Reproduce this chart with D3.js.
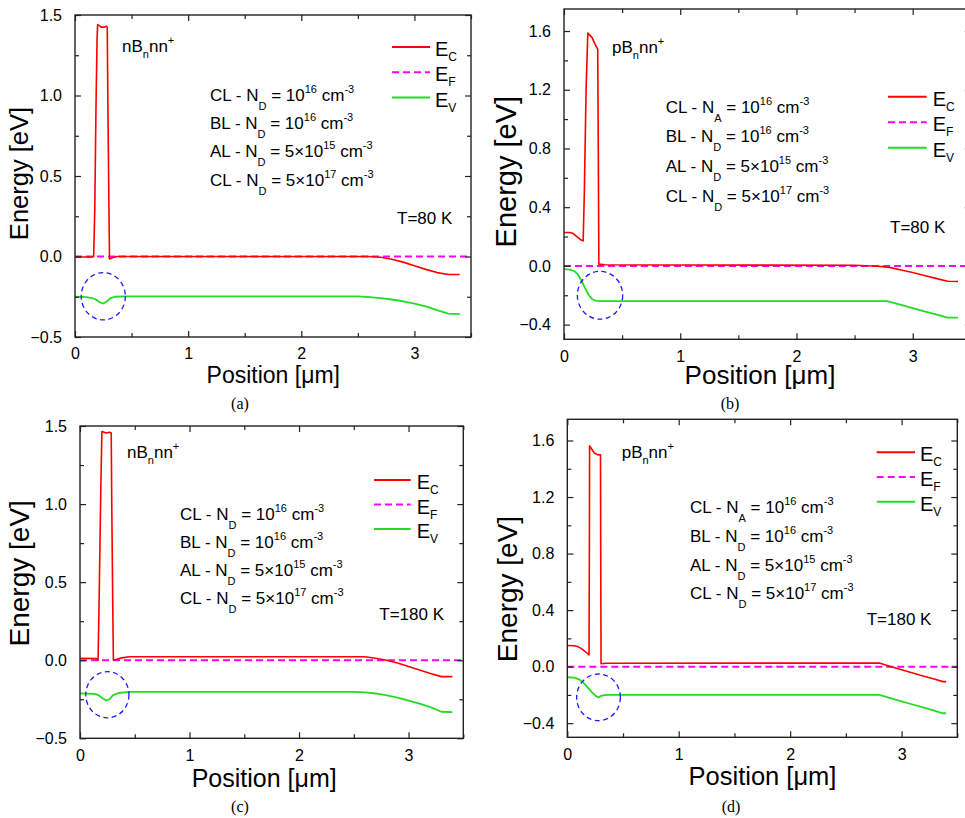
<!DOCTYPE html>
<html>
<head>
<meta charset="utf-8">
<script src="https://cdn.jsdelivr.net/npm/d3@7"></script>
<style>
  body { margin: 0; background: #fff; }
  svg text { font-family: "Liberation Sans", Arial, sans-serif; fill: #000; white-space: pre; }
  svg text.caption { font-family: "Liberation Serif", "Times New Roman", serif; }
</style>
</head>
<body>
<svg id="fig" width="965" height="818"></svg>
<script>
"use strict";

// ---- axis ticks ----
const positionTicks = [0, 1, 2, 3];
const positionMinor = [0.5, 1.5, 2.5, 3.5];
const energyTicksN = [-0.5, 0, 0.5, 1.0, 1.5];
const energyMinorN = [-0.25, 0.25, 0.75, 1.25];
const energyTicksP = [-0.4, 0, 0.4, 0.8, 1.2, 1.6];
const energyMinorP = [-0.2, 0.2, 0.6, 1.0, 1.4];

// ---- band edges: [position (um), energy (eV)] ----
// (a) nBnn+, 80 K
const ecA = [[0,-0.003],[0.15,-0.003],[0.165,0.0],[0.175,0.3],[0.185,0.9],[0.195,1.35],[0.2,1.44],
  [0.215,1.435],[0.23,1.425],[0.26,1.425],[0.275,1.43],[0.285,1.425],[0.29,1.0],[0.3,0.3],[0.305,-0.015],
  [0.33,-0.008],[0.37,0.0],[2.6,0.0],[2.7,-0.005],[2.8,-0.017],[2.9,-0.035],[3.0,-0.058],[3.1,-0.08],
  [3.2,-0.1],[3.3,-0.112],[3.4,-0.112]];
const evA = [[0,-0.25],[0.1,-0.252],[0.15,-0.258],[0.19,-0.27],[0.22,-0.285],[0.25,-0.292],[0.28,-0.28],
  [0.31,-0.26],[0.35,-0.25],[0.45,-0.248],[2.5,-0.248],[2.6,-0.252],[2.7,-0.258],[2.8,-0.267],[2.9,-0.278],
  [3.0,-0.292],[3.1,-0.31],[3.2,-0.333],[3.3,-0.355],[3.4,-0.358]];
// (b) pBnn+, 80 K
const ecB = [[0,0.228],[0.05,0.228],[0.08,0.22],[0.11,0.2],[0.14,0.18],[0.165,0.17],[0.175,0.5],[0.19,1.2],
  [0.205,1.586],[0.24,1.557],[0.28,1.49],[0.29,1.477],[0.295,0.8],[0.3,0.012],[0.35,0.008],[2.5,0.004],
  [2.7,-0.002],[2.8,-0.01],[2.9,-0.028],[3.0,-0.045],[3.1,-0.065],[3.2,-0.085],[3.3,-0.105],[3.39,-0.106]];
const evB = [[0,-0.022],[0.05,-0.025],[0.09,-0.035],[0.12,-0.06],[0.15,-0.1],[0.18,-0.15],[0.21,-0.195],
  [0.24,-0.225],[0.27,-0.237],[0.31,-0.24],[2.78,-0.24],[2.9,-0.265],[3.0,-0.287],[3.1,-0.31],[3.2,-0.33],
  [3.3,-0.352],[3.39,-0.353]];
// (c) nBnn+, 180 K
const ecC = [[0,0.013],[0.15,0.01],[0.165,0.0],[0.175,0.4],[0.19,1.1],[0.2,1.465],[0.22,1.46],[0.24,1.455],
  [0.27,1.46],[0.285,1.455],[0.29,1.0],[0.3,0.3],[0.305,0.0],[0.33,0.005],[0.38,0.015],[0.45,0.022],
  [2.6,0.022],[2.7,0.013],[2.8,0.0],[2.9,-0.018],[3.0,-0.04],[3.1,-0.062],[3.2,-0.085],[3.3,-0.105],[3.4,-0.105]];
const evC = [[0,-0.212],[0.12,-0.215],[0.16,-0.22],[0.2,-0.24],[0.24,-0.258],[0.27,-0.25],[0.3,-0.225],
  [0.35,-0.21],[0.45,-0.203],[2.5,-0.203],[2.6,-0.206],[2.7,-0.213],[2.8,-0.225],[2.9,-0.24],[3.0,-0.258],
  [3.1,-0.278],[3.2,-0.3],[3.3,-0.33],[3.4,-0.333]];
// (d) pBnn+, 180 K
const ecD = [[0,0.149],[0.06,0.148],[0.1,0.14],[0.14,0.12],[0.17,0.1],[0.195,0.083],[0.198,0.8],[0.2,1.562],
  [0.215,1.545],[0.23,1.525],[0.245,1.51],[0.27,1.5],[0.298,1.498],[0.3,0.8],[0.303,0.02],[0.35,0.024],
  [2.8,0.026],[2.9,0.001],[3.0,-0.022],[3.1,-0.045],[3.2,-0.068],[3.3,-0.09],[3.37,-0.106],[3.4,-0.106]];
const evD = [[0,-0.075],[0.06,-0.078],[0.1,-0.088],[0.14,-0.11],[0.18,-0.145],[0.22,-0.18],[0.26,-0.21],
  [0.28,-0.218],[0.3,-0.208],[0.33,-0.202],[0.4,-0.2],[2.8,-0.2],[2.9,-0.223],[3.0,-0.245],[3.1,-0.268],
  [3.2,-0.29],[3.3,-0.313],[3.37,-0.33],[3.4,-0.33]];
// Fermi level
const efLine = [[0,0],[3.5,0]];

// dashed circles: [x (um), y (eV), rx (um), ry (eV)]
const circleA = [0.25, -0.247, 0.195, 0.147];
const circleB = [0.31, -0.2, 0.195, 0.163];
const circleC = [0.25, -0.221, 0.197, 0.148];
const circleD = [0.28, -0.217, 0.196, 0.165];

// ---- texts ----
const panelTags = ["(a)", "(b)", "(c)", "(d)"];
const temperatures = ["T=80 K", "T=80 K", "T=180 K", "T=180 K"];
const legendNames = [["E", "C"], ["E", "F"], ["E", "V"]];
const structN = [["nB", ""], ["n", "sub"], ["nn", ""], ["+", "sup"]];
const structP = [["pB", ""], ["n", "sub"], ["nn", ""], ["+", "sup"]];
const dopingN = [
  [["CL - N", ""], ["D", "sub"], [" = 10", ""], ["16", "sup"], [" cm", ""], ["-3", "sup"]],
  [["BL - N", ""], ["D", "sub"], [" = 10", ""], ["16", "sup"], [" cm", ""], ["-3", "sup"]],
  [["AL - N", ""], ["D", "sub"], [" = 5\u00d710", ""], ["15", "sup"], [" cm", ""], ["-3", "sup"]],
  [["CL - N", ""], ["D", "sub"], [" = 5\u00d710", ""], ["17", "sup"], [" cm", ""], ["-3", "sup"]]
];
const dopingP = [
  [["CL - N", ""], ["A", "sub"], [" = 10", ""], ["16", "sup"], [" cm", ""], ["-3", "sup"]],
  dopingN[1], dopingN[2], dopingN[3]
];

// ---- layout (pixels) ----
const panels = [
  { ec: ecA, ev: evA, circle: circleA, ticks: energyTicksN, minor: energyMinorN, yDom: [-0.5, 1.5],
    left: 75, top: 15, right: 471, bottom: 337, struct: structN, doping: dopingN,
    tag: [47, 37], dop: [135, 85.5, 28.4], temp: [322, 209], leg: [317, 355, 32, 25.3, 360],
    eLab: [28, 173.5, 25.5], pLab: [273.3, 383, 23], cap: [240, 409] },
  { ec: ecB, ev: evB, circle: circleB, ticks: energyTicksP, minor: energyMinorP, yDom: [-0.5, 1.75],
    left: 564, top: 9, right: 970.8, bottom: 339.3, struct: structP, doping: dopingP,
    tag: [48, 44], dop: [101.7, 103.7, 29.7], temp: [326, 224], leg: [324, 362.7, 87.7, 25.5, 368.7],
    eLab: [515.7, 171.7, 29], pLab: [760, 384, 26], cap: [730, 409] },
  { ec: ecC, ev: evC, circle: circleC, ticks: energyTicksN, minor: energyMinorN, yDom: [-0.5, 1.5],
    left: 80, top: 426, right: 463.3, bottom: 738.3, struct: structN, doping: dopingN,
    tag: [47, 32], dop: [100, 94, 28.1], temp: [299.3, 194], leg: [294, 330.7, 54, 24.5, 336.7],
    eLab: [29, 573.3, 28], pLab: [264.2, 786.7, 25], cap: [240, 812] },
  { ec: ecD, ev: evD, circle: circleD, ticks: energyTicksP, minor: energyMinorP, yDom: [-0.5, 1.75],
    left: 567.3, top: 419.3, right: 957.3, bottom: 737.3, struct: structP, doping: dopingP,
    tag: [54.4, 39], dop: [122.7, 94, 28.7], temp: [299.4, 205.7], leg: [309.4, 347.7, 33, 24.7, 352.7],
    eLab: [517.4, 589, 28], pLab: [762.5, 785, 25.5], cap: [731, 812] }
];

const svg = d3.select("#fig");

function richText(sel, x, y, parts, size, small, subDy, supDy) {
  const t = sel.append("text").attr("x", x).attr("y", y).style("font-size", size + "px");
  let shift = 0;
  parts.forEach(([s, kind]) => {
    const target = kind === "sub" ? subDy : kind === "sup" ? supDy : 0;
    t.append("tspan")
      .attr("dy", target - shift)
      .style("font-size", (kind ? small : size) + "px")
      .text(s);
    shift = target;
  });
  return t;
}

panels.forEach((p, i) => {
  const w = p.right - p.left, h = p.bottom - p.top;
  const x = d3.scaleLinear().domain([0, 3.5]).range([0, w]);
  const y = d3.scaleLinear().domain(p.yDom).range([h, 0]);
  const g = svg.append("g").attr("transform", `translate(${p.left},${p.top})`);

  const line = d3.line().x(d => x(d[0])).y(d => y(d[1]));

  // curves
  g.append("path").attr("d", line(efLine)).attr("fill", "none")
    .attr("stroke", "#ff00ff").attr("stroke-width", 2).attr("stroke-dasharray", "7,4");
  g.append("path").attr("d", line(p.ec)).attr("fill", "none")
    .attr("stroke", "#ff0000").attr("stroke-width", 1.6).attr("stroke-linejoin", "round");
  g.append("path").attr("d", line(p.ev)).attr("fill", "none")
    .attr("stroke", "#22dd22").attr("stroke-width", 1.8).attr("stroke-linejoin", "round");

  // dashed circle
  const c = p.circle;
  g.append("ellipse")
    .attr("cx", x(c[0])).attr("cy", y(c[1]))
    .attr("rx", x(c[2]) - x(0)).attr("ry", y(0) - y(c[3]))
    .attr("fill", "none").attr("stroke", "#1a1aff").attr("stroke-width", 1.3)
    .attr("stroke-dasharray", "5,3.5");

  // axes, ticks pointing inwards on all four sides
  const styleAxis = a => {
    a.select(".domain").remove();
    a.selectAll(".tick line").attr("stroke", "#222").attr("stroke-width", 1.2);
    a.selectAll(".tick text").style("font-size", "16px")
      .style("font-family", "'Liberation Sans', Arial, sans-serif").attr("fill", "#000");
  };
  const fmtY = d3.format(".1f");
  g.append("g").attr("transform", `translate(0,${h})`)
    .call(d3.axisBottom(x).tickValues(positionTicks).tickFormat(d3.format("d")).tickSize(-6).tickPadding(11))
    .call(styleAxis);
  g.append("g").attr("transform", `translate(0,${h})`)
    .call(d3.axisBottom(x).tickValues(positionMinor).tickFormat("").tickSize(-4)).call(styleAxis);
  g.append("g")
    .call(d3.axisTop(x).tickValues(positionTicks).tickFormat("").tickSize(-6)).call(styleAxis);
  g.append("g")
    .call(d3.axisTop(x).tickValues(positionMinor).tickFormat("").tickSize(-4)).call(styleAxis);
  g.append("g")
    .call(d3.axisLeft(y).tickValues(p.ticks).tickFormat(fmtY).tickSize(-6).tickPadding(13))
    .call(styleAxis);
  g.append("g")
    .call(d3.axisLeft(y).tickValues(p.minor).tickFormat("").tickSize(-4)).call(styleAxis);
  g.append("g").attr("transform", `translate(${w},0)`)
    .call(d3.axisRight(y).tickValues(p.ticks).tickFormat("").tickSize(-6)).call(styleAxis);
  g.append("g").attr("transform", `translate(${w},0)`)
    .call(d3.axisRight(y).tickValues(p.minor).tickFormat("").tickSize(-4)).call(styleAxis);

  g.append("rect").attr("width", w).attr("height", h)
    .attr("fill", "none").attr("stroke", "#222").attr("stroke-width", 1.4);

  // structure label, doping list, temperature
  richText(g, p.tag[0], p.tag[1], p.struct, 17, 11, 6, -8);
  p.doping.forEach((parts, k) => {
    richText(g, p.dop[0], p.dop[1] + k * p.dop[2], parts, 17, 11, 9, -8);
  });
  g.append("text").attr("x", p.temp[0]).attr("y", p.temp[1]).style("font-size", "17px").text(temperatures[i]);

  // legend
  const legColors = ["#ff0000", "#ff00ff", "#22dd22"];
  legendNames.forEach((nm, k) => {
    const ly = p.leg[2] + k * p.leg[3];
    g.append("line").attr("x1", p.leg[0]).attr("x2", p.leg[1]).attr("y1", ly).attr("y2", ly)
      .attr("stroke", legColors[k]).attr("stroke-width", 2)
      .attr("stroke-dasharray", k === 1 ? "7,4" : null);
    richText(g, p.leg[4], ly + 9, [[nm[0], ""], [nm[1], "sub"]], 20, 12, 5, 0);
  });

  // axis titles and caption
  svg.append("text")
    .attr("transform", `translate(${p.eLab[0]},${p.eLab[1]}) rotate(-90)`)
    .attr("text-anchor", "middle").style("font-size", p.eLab[2] + "px").text("Energy [eV]");
  svg.append("text").attr("x", p.pLab[0]).attr("y", p.pLab[1])
    .attr("text-anchor", "middle").style("font-size", p.pLab[2] + "px").text("Position [\u03bcm]");
  svg.append("text").attr("class", "caption").attr("x", p.cap[0]).attr("y", p.cap[1])
    .attr("text-anchor", "middle").style("font-size", "16px").text(panelTags[i]);
});
</script>
</body>
</html>
